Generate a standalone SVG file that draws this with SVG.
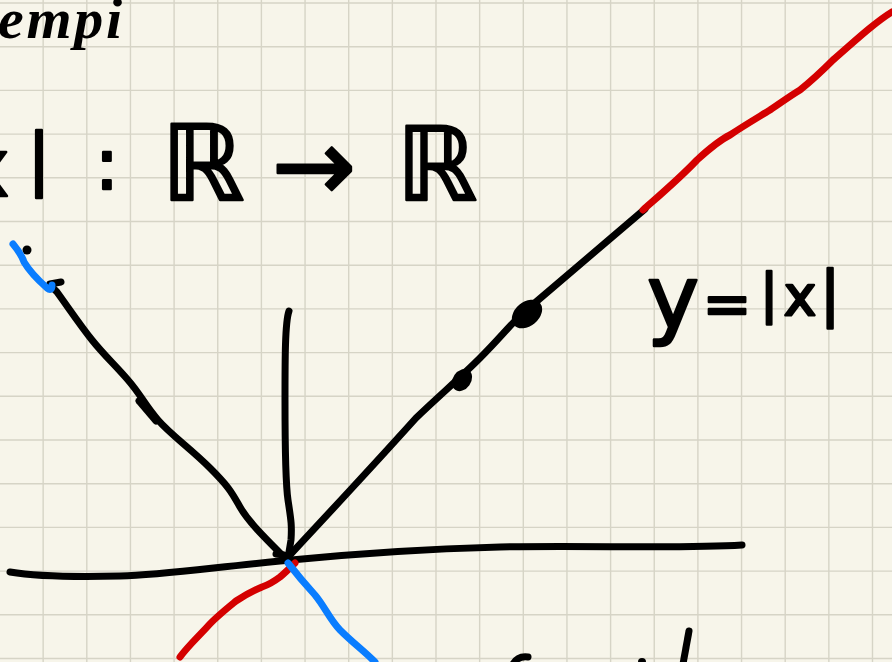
<svg xmlns="http://www.w3.org/2000/svg" width="892" height="662" viewBox="0 0 892 662">
<style>
.bg{fill:#f7f5ea}
.grid{stroke:#d6d4c6;stroke-width:1.4;fill:none}
.ink{fill:none;stroke:#000;stroke-width:7;stroke-linecap:round;stroke-linejoin:round}
.red{fill:none;stroke:#d40000;stroke-width:7;stroke-linecap:round;stroke-linejoin:round}
.blue{fill:none;stroke:#0a7dff;stroke-width:7;stroke-linecap:round;stroke-linejoin:round}
.hw{font-family:"DejaVu Sans","Noto Sans",sans-serif;fill:#000;stroke:#000;stroke-width:2.5;stroke-linejoin:round;text-anchor:middle}
.cur{font-family:"Liberation Serif","DejaVu Serif",serif;font-style:italic;font-weight:bold;fill:#000}
</style>
<rect class="bg" x="0" y="0" width="892" height="662"/>
<g id="grid" class="grid">
<path d="M43.15,0V662M86.8,0V662M130.45,0V662M174.1,0V662M217.75,0V662M261.4,0V662M305.05,0V662M348.7,0V662M392.35,0V662M436,0V662M479.65,0V662M523.3,0V662M566.95,0V662M610.6,0V662M654.25,0V662M697.9,0V662M741.55,0V662M785.2,0V662M828.85,0V662M872.5,0V662"/>
<path d="M0,3H892M0,46.7H892M0,90.4H892M0,134.1H892M0,177.8H892M0,221.5H892M0,265.2H892M0,308.9H892M0,352.6H892M0,396.3H892M0,440H892M0,483.7H892M0,527.4H892M0,571.1H892M0,614.8H892M0,658.5H892"/>
</g>
<g id="title">
<text class="cur" x="-2" y="38" font-size="58" textLength="124" lengthAdjust="spacing">empi</text>
</g>
<g id="mapping">
<text class="hw" x="-14" y="196" font-size="80">x</text>
<text class="hw" x="39" y="182" font-size="68">|</text>
<text class="hw" x="107" y="189" font-size="72">:</text>
<text class="hw" x="203" y="200" font-size="105">ℝ</text>
<text class="hw" x="314" y="200" font-size="100">→</text>
<text class="hw" x="437" y="200" font-size="102">ℝ</text>
</g>
<g id="label">
<text class="hw" x="673" y="328" font-size="88">y</text>
<text class="hw" x="727" y="324" font-size="58">=</text>
<text class="hw" x="769" y="312" font-size="54">|</text>
<text class="hw" x="800" y="315" font-size="55">x</text>
<text class="hw" x="830" y="314" font-size="60">|</text>
</g>
<g id="connectors">
<path id="x-axis" class="ink" d="M10,572 C40,577 80,577 120,576 S200,569 280,561 S420,549 500,547 S680,549 742,545"/>
<path id="y-axis" class="ink" d="M289,311 C285,322 285,360 285,400 S285,480 288,500 S292,525 291,540 L288,558"/>
<path id="right-branch" class="ink" d="M288,557 C330,512 380,458 416,418 C440,395 460,378 480,358 C500,338 510,325 523,313 L645,209"/>
<ellipse cx="527" cy="314" rx="17" ry="12" transform="rotate(-40 527 314)" fill="#000"/>
<ellipse cx="462" cy="380" rx="12" ry="9" transform="rotate(-55 462 380)" fill="#000"/>
<path id="left-branch" class="ink" d="M52,287 L57,292 C70,310 80,325 92,340 S115,365 128,380 S145,405 158,420 S190,448 210,468 S232,493 240,507 S262,535 285,558"/>
<path class="ink" stroke-width="11" d="M139,401 L156,421"/>
<path class="ink" stroke-width="5" d="M50,284 L61,282"/>
<path class="ink" stroke-width="5" d="M276,554 L284,555"/>
<circle cx="27" cy="250" r="4.5" fill="#000"/>
<path id="red-upper" class="red" d="M643,210 C660,195 680,178 697,160 C710,148 720,140 730,135 C745,125 757,118 770,110 C782,102 790,96 800,90 C815,78 825,68 833,60 C848,47 860,36 870,28 C880,20 887,15 892,12"/>
<path id="red-lower" class="red" d="M295,563 C290,568 286,572 280,577 C272,583 268,585 262,587 C250,592 242,597 236,601 C225,610 215,618 208,626 C198,637 188,646 180,657"/>
<path id="blue-upper" class="blue" d="M13,244 C18,250 22,256 24,262 C30,272 38,280 47,288 Q52,292 52,285"/>
<path id="blue-lower" class="blue" d="M288,563 C295,572 305,584 315,595 C325,607 330,620 340,630 C352,642 365,652 375,662"/>
</g>
<g id="bottom-fragments">
<path class="ink" d="M513,664 C516,659 521,656 528,657"/>
<circle cx="642" cy="662" r="4" fill="#000"/>
<path class="ink" d="M689,631 L683,664"/>
</g>
</svg>
